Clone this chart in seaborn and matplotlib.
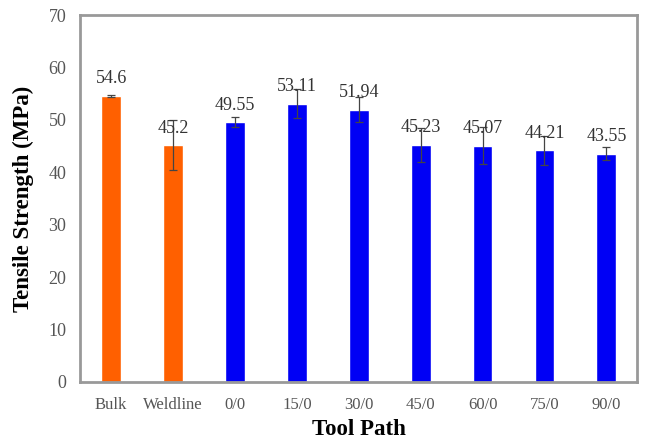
import matplotlib
matplotlib.use("Agg")
import matplotlib.pyplot as plt
import seaborn as sns
import pandas as pd

# values
tool_paths = ["Bulk", "Weldline", "0/0", "15/0", "30/0", "45/0", "60/0", "75/0", "90/0"]
strength = [54.6, 45.2, 49.55, 53.11, 51.94, 45.23, 45.07, 44.21, 43.55]
error = [0.2, 4.8, 1.0, 2.7, 2.4, 3.3, 3.5, 2.8, 1.3]
group = ["ref", "ref", "tp", "tp", "tp", "tp", "tp", "tp", "tp"]

df = pd.DataFrame({"Tool Path": tool_paths, "Strength": strength,
                   "Error": error, "Group": group})

sns.set_style("white")
plt.rcParams['font.family'] = ['Liberation Serif', 'DejaVu Serif']

fig = plt.figure(figsize=(6.47, 4.42), dpi=100)
ax = fig.add_axes([0.124, 0.136, 0.861, 0.830])

sns.barplot(data=df, x="Tool Path", y="Strength", hue="Group",
            palette={"ref": "#ff6000", "tp": "#0000f5"}, dodge=False,
            width=0.32, legend=False, ax=ax, saturation=1)

ax.errorbar(range(len(tool_paths)), strength, yerr=error, fmt="none",
            ecolor="#444444", elinewidth=0.9, capsize=3, capthick=0.9)

for i, v in enumerate(strength):
    ax.text(i, v + 1.6, f"{v:.2f}" if v in (49.55, 43.55) else f"{v:g}",
            ha="center", va="bottom", fontsize=13, color="#333333")

ax.set_ylim(0, 70)
ax.set_xlim(-0.5, len(tool_paths) - 0.5)
ax.set_yticks(range(0, 71, 10))
ax.tick_params(axis="both", length=0, colors="#555555")
ax.tick_params(axis="y", labelsize=13, pad=10)
ax.tick_params(axis="x", labelsize=12, pad=11)

for s in ax.spines.values():
    s.set_color("#999999")
    s.set_linewidth(2)

ax.set_xlabel("Tool Path", fontsize=16.5, fontweight="bold", color="black", labelpad=4)
ax.set_ylabel("Tensile Strength (MPa)", fontsize=16.5, fontweight="bold", color="black", labelpad=10)

fig.savefig("out.png", dpi=100)
